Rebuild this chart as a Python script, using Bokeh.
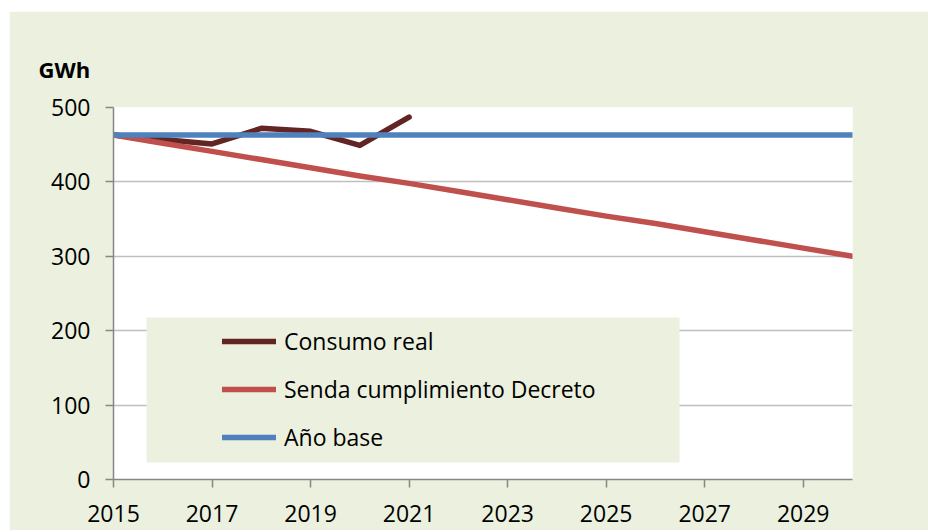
from bokeh.plotting import figure
from bokeh.models import Range1d, FixedTicker, BoxAnnotation, Legend, LegendItem, Title, Spacer
from bokeh.layouts import column, row
from bokeh.embed import file_html
from bokeh.resources import INLINE

# ---- data ----
years = [2015, 2016, 2017, 2018, 2019, 2020, 2021, 2022, 2023, 2024, 2025, 2026, 2027, 2028, 2029, 2030]
consumo_years = [2015, 2016, 2017, 2018, 2019, 2020, 2021]
consumo_real = [463, 457, 451, 472, 468, 449, 487]
senda = [463, 452, 441, 430, 419, 408, 398, 387, 376, 365, 354, 344, 333, 322, 311, 300]
anio_base = [463, 463, 463, 463, 463, 463, 463, 463, 463, 463, 463, 463, 463, 463, 463, 463]
x_ticks = [2015, 2017, 2019, 2021, 2023, 2025, 2027, 2029]
y_ticks = [0, 100, 200, 300, 400, 500]
labels = ["Consumo real", "Senda cumplimiento Decreto", "Año base"]
colors = ["#632523", "#C0504D", "#4F81BD"]

BG = "#EBF1DE"
FONT = "Open Sans"

p = figure(width=919, height=519, output_backend="svg", toolbar_location=None,
           x_range=Range1d(2015, 2030), y_range=Range1d(0, 500),
           min_border_left=104, min_border_right=76, min_border_top=96, min_border_bottom=51)
p.background_fill_color = "white"
p.border_fill_color = BG
p.outline_line_color = None

p.xgrid.visible = False
p.ygrid.ticker = FixedTicker(ticks=y_ticks)
p.ygrid.grid_line_color = "#BFBFBF"
p.ygrid.grid_line_width = 1.5

for ax in (p.xaxis[0], p.yaxis[0]):
    ax.axis_line_color = "#868686"
    ax.axis_line_width = 1.5
    ax.major_tick_line_color = "#868686"
    ax.major_tick_line_width = 1.5
    ax.major_tick_in = 0
    ax.major_tick_out = 8
    ax.minor_tick_line_color = None
    ax.major_label_text_font = FONT
    ax.major_label_text_font_size = "23px"
    ax.major_label_text_color = "black"

p.yaxis[0].ticker = FixedTicker(ticks=y_ticks)
p.yaxis[0].major_label_standoff = 15
p.xaxis[0].ticker = FixedTicker(ticks=x_ticks)
p.xaxis[0].major_label_standoff = 17

# legend background box
box = BoxAnnotation(left=2015.67, right=2026.49, bottom=22.8, top=217.7,
                    fill_color=BG, fill_alpha=1.0, line_color=None)
p.add_layout(box)

r1 = p.line(consumo_years, consumo_real, line_color=colors[0], line_width=5.5, line_cap="round", line_join="round")
r2 = p.line(years, senda, line_color=colors[1], line_width=5.5, line_cap="round", line_join="round")
r3 = p.line(years, anio_base, line_color=colors[2], line_width=5.5, line_cap="round", line_join="round")

legend = Legend(items=[LegendItem(label=labels[0], renderers=[r1]),
                       LegendItem(label=labels[1], renderers=[r2]),
                       LegendItem(label=labels[2], renderers=[r3])],
                location=(109, 26), orientation="vertical",
                background_fill_alpha=0, border_line_color=None,
                glyph_width=54, glyph_height=32, label_height=32,
                label_standoff=8, spacing=16, padding=0, margin=0,
                label_text_font=FONT, label_text_font_size="23px",
                label_text_color="black")
p.add_layout(legend)

t = Title(text="GWh", align="left", offset=-75, standoff=47,
          text_font=FONT, text_font_style="bold", text_font_size="22px",
          text_color="black")
p.add_layout(t, "above")

layout = column(Spacer(height=11), row(Spacer(width=9), p))
open("out.html", "w").write(file_html(layout, INLINE))
